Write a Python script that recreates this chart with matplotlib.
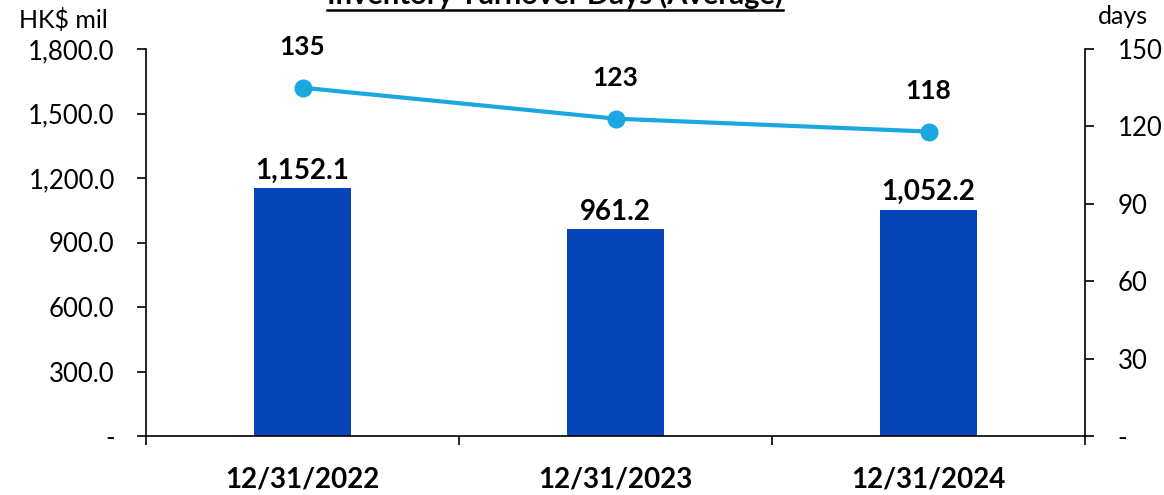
import matplotlib.pyplot as plt
from matplotlib.lines import Line2D

plt.rcParams['font.family'] = ['Lato', 'DejaVu Sans']

dates = ['12/31/2022', '12/31/2023', '12/31/2024']
inventory = [1152.1, 961.2, 1052.2]
days = [135, 123, 118]
left_ticks = [0, 300, 600, 900, 1200, 1500, 1800]
left_labels = ['-', '300.0', '600.0', '900.0', '1,200.0', '1,500.0', '1,800.0']
right_ticks = [0, 30, 60, 90, 120, 150]
right_labels = ['-', '30', '60', '90', '120', '150']

bar_color = '#0645B8'
line_color = '#1BA8E0'

fig = plt.figure(figsize=(11.64, 4.95), dpi=100)
ax = fig.add_axes([146/1164, 1-436/495, (1085-146)/1164, (436-49)/495])
ax2 = ax.twinx()

x = list(range(len(dates)))
ax.bar(x, inventory, width=0.31, color=bar_color, zorder=2)
for xi, v in zip(x, inventory):
    ax.text(xi, v + 22, f'{v:,.1f}', ha='center', va='bottom',
            fontsize=20, fontweight='bold')

ax.set_xlim(-0.5, 2.5)
ax.set_ylim(0, 1800)
ax.set_yticks(left_ticks)
ax.set_yticklabels(left_labels, fontsize=18.5)
ax.set_xticks([-0.5, 0.5, 1.5, 2.5], minor=False)
ax.set_xticklabels([])
ax.set_xticks(x, minor=True)
ax.set_xticklabels(dates, minor=True, fontsize=20, fontweight='bold')
ax.tick_params(axis='x', which='major', length=6.5, width=1.2, direction='out')
ax.tick_params(axis='x', which='minor', length=0, pad=22)
ax.tick_params(axis='y', length=6.5, width=1.2, direction='out', pad=16)
for s in ['top', 'right']:
    ax.spines[s].set_visible(False)
for s in ['left', 'bottom']:
    ax.spines[s].set_linewidth(1.2)

ax2.plot(x, days, color=line_color, lw=3, marker='o', markersize=12, zorder=3)
for xi, d in zip(x, days):
    ax2.text(xi, d + 11, str(d), ha='center', va='bottom',
             fontsize=19, fontweight='bold')
ax2.set_ylim(0, 150)
ax2.set_yticks(right_ticks)
ax2.set_yticklabels(right_labels, fontsize=18.5)
ax2.tick_params(axis='y', length=6.5, width=1.2, direction='out', pad=17)
for s in ['top', 'left', 'bottom']:
    ax2.spines[s].set_visible(False)
ax2.spines['right'].set_linewidth(1.2)

# axis unit labels
fig.text(63/1164, 1-20/495, 'HK$ mil', ha='center', va='center', fontsize=18)
fig.text(1123/1164, 1-16/495, 'days', ha='center', va='center', fontsize=18)

# title, clipped at top like the source
title = fig.text(555/1164, 1-4/495, 'Inventory Turnover Days (Average)',
                 ha='center', va='baseline', fontsize=21, fontweight='bold')
fig.canvas.draw()
bb = title.get_window_extent()
x0 = bb.x0 / fig.bbox.width
x1 = bb.x1 / fig.bbox.width
yl = 1 - 10/495
fig.add_artist(Line2D([x0, x1], [yl, yl], color='black', lw=1.8,
                      transform=fig.transFigure))

fig.savefig('out.png', dpi=100)
